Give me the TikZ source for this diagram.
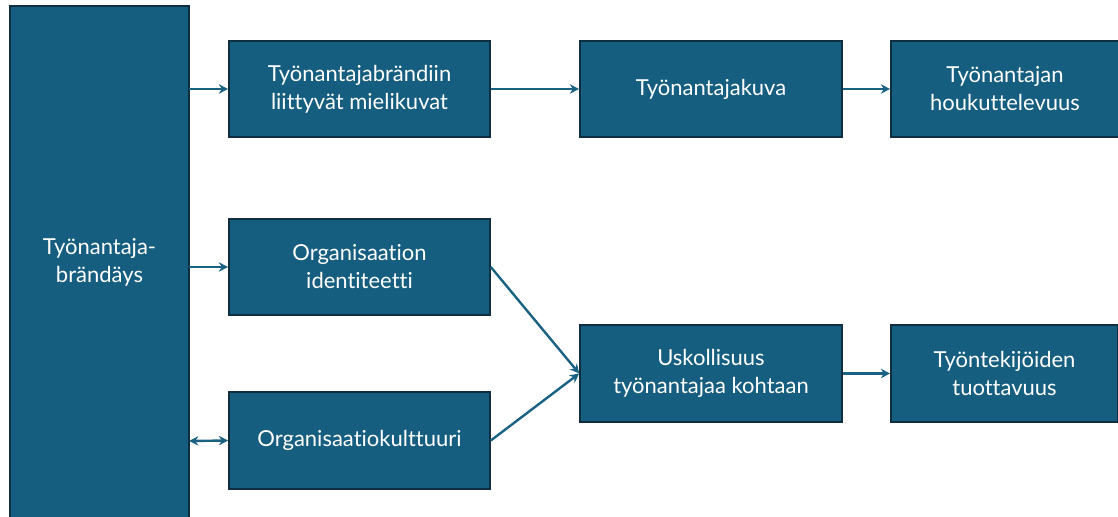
\documentclass[tikz,border=0pt]{standalone}
\usepackage{fontspec}
\setmainfont{Lato}[Ligatures=NoCommon]
\usetikzlibrary{arrows.meta}
\definecolor{boxfill}{HTML}{165E7F}
\definecolor{boxline}{HTML}{0F2F40}
\definecolor{arrcol}{HTML}{1A6284}
\begin{document}
\begin{tikzpicture}[x=0.75pt,y=-0.75pt,
  txt/.style={text=white,font=\fontsize{16.5}{21}\selectfont,align=center},
  blk/.style={txt,draw=boxline,line width=1.2pt,fill=boxfill,inner sep=0pt},
  conn/.style={draw=arrcol,line width=1.8pt,-{Stealth[length=7pt,width=7pt]}},
  conn2/.style={draw=arrcol,line width=1.8pt,{Stealth[length=7pt,width=7pt]}-{Stealth[length=7pt,width=7pt]}}]
\useasboundingbox (0,0) rectangle (1118,517);
\path[blk] (10,6) rectangle (189,530);
\node[txt] (L) at (99.5,262) {Työnantaja-\\brändäys};
\coordinate (Lr1) at (189,89);
\coordinate (Lr2) at (189,267);
\coordinate (Lr3) at (189,441);
\node[blk,minimum width=261pt*0.75,minimum height=96pt*0.75] (A) at (359.5,89) {Työnantajabrändiin\\liittyvät mielikuvat};
\node[blk,minimum width=262pt*0.75,minimum height=96pt*0.75] (B) at (711,89) {Työnantajakuva};
\node[blk,minimum width=228pt*0.75,minimum height=96pt*0.75] (C) at (1005,89) {Työnantajan\\houkuttelevuus};
\node[blk,minimum width=261pt*0.75,minimum height=96pt*0.75] (D) at (359.5,267) {Organisaation\\identiteetti};
\node[blk,minimum width=261pt*0.75,minimum height=97pt*0.75] (E) at (359.5,440.5) {Organisaatiokulttuuri};
\node[blk,minimum width=262pt*0.75,minimum height=97pt*0.75] (F) at (711,373.5) {Uskollisuus\\työnantajaa kohtaan};
\node[blk,minimum width=227pt*0.75,minimum height=97pt*0.75] (G) at (1004.5,373.5) {Työntekijöiden\\tuottavuus};
\draw[conn] (Lr1) -- (A.west);
\draw[conn] (A.east) -- (B.west);
\draw[conn] (B.east) -- (C.west);
\draw[conn] (Lr2) -- (D.west);
\draw[conn2] (Lr3) -- (E.west);
\draw[conn] (D.east) -- (F.west);
\draw[conn] (E.east) -- (F.west);
\draw[conn] (F.east) -- (G.west);
\end{tikzpicture}
\end{document}
